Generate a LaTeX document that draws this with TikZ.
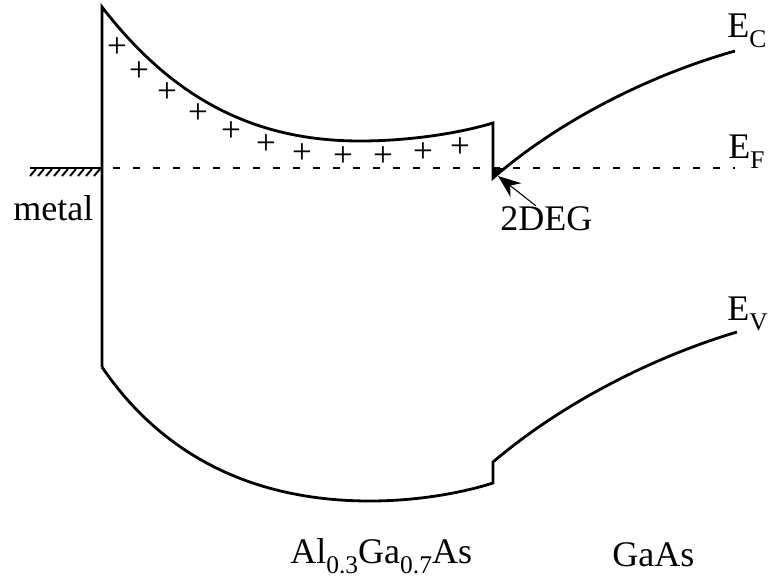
\documentclass[tikz,border=0pt]{standalone}
\usepackage{fontspec}
\setmainfont{Liberation Serif}
\usetikzlibrary{arrows.meta}
\newcommand{\lowsub}[1]{\raisebox{-6pt}{\fontsize{14.5}{15}\selectfont #1}}

\begin{document}
\begin{tikzpicture}[x=0.02cm,y=-0.02cm,font=\fontsize{20.5}{24}\selectfont,
    band/.style={line width=1.6pt},
    lbl/.style={anchor=base west,inner sep=0pt},
    plus/.style={inner sep=0pt,font=\fontsize{20}{20}\selectfont}]
    \useasboundingbox (0,0) rectangle (768,578);
    \coordinate (mtop) at (102,7);
    \coordinate (mbot) at (102,367);
    \coordinate (cmin) at (360,141);
    \coordinate (cstep) at (493,123);
    \coordinate (cdeg) at (493,178);
    \coordinate (cend) at (735,51);
    \coordinate (vmin) at (370,501);
    \coordinate (vstep) at (493,483);
    \coordinate (vgaas) at (493,462);
    \coordinate (vend) at (737,332);
    \coordinate (gnd) at (30,168);
    \coordinate (efl) at (102,168);
    \coordinate (efr) at (735,168);
    \coordinate (dega) at (493,168);
    \coordinate (degb) at (506,168);
    \coordinate (degtip) at (498,176);

    \draw[band] (mbot) -- (mtop) .. controls (170,95) and (250,141) .. (cmin) .. controls (410,141) and (460,133) .. (cstep) -- (cdeg) .. controls (560,120) and (650,75) .. (cend);
    \draw[band] (mbot) .. controls (155,445) and (240,501) .. (vmin) .. controls (420,501) and (465,492) .. (vstep) -- (vgaas) .. controls (560,405) and (650,358) .. (vend);
    \fill (dega) -- (degb) -- (cdeg) -- cycle;
    \draw[line width=1.7pt,dash pattern=on 4pt off 7.4pt] ([xshift=6pt]efl) -- (efr);
    \draw[band] (gnd) -- (efl);
    \foreach \x in {30,38,...,94}
        \draw[line width=1.1pt] (\x,176) -- ++(6,-7);
    \foreach \p in {(117,48),(139,72),(167,93),(198,114),(231,132),(266,145),(302,154),(343,157),(383,157),(423,153),(460,148)}
        \node[plus] at \p {+};

    \node[lbl] (ec) at (727,37) {E\lowsub{C}};
    \node[lbl] (ef) at (728,158) {E\lowsub{F}};
    \node[lbl] (ev) at (727,320) {E\lowsub{V}};
    \node[lbl] (metal) at (13,220) {metal};
    \node[lbl] (deg) at (500,230) {2DEG};
    \node[lbl] (algaas) at (290,563) {Al\lowsub{0.3}Ga\lowsub{0.7}As};
    \node[lbl] (gaas) at (612,566) {GaAs};
    \draw[-{Stealth[length=13pt,width=10pt]},line width=0.6pt] ([xshift=-6pt]deg.north) -- (degtip);
\end{tikzpicture}
\end{document}
